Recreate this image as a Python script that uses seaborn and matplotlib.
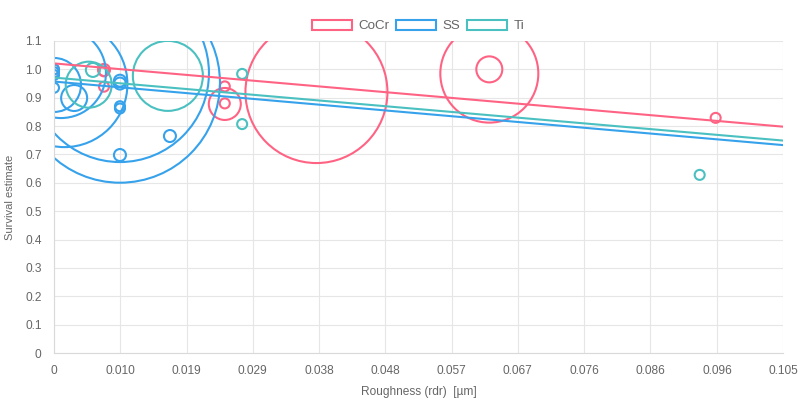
import numpy as np
import pandas as pd
import matplotlib
matplotlib.use("Agg")
import matplotlib.pyplot as plt
import seaborn as sns
from matplotlib.patches import Patch

# bubble data (x = roughness, y = survival, r = bubble radius in px)
cocr_x = [0.0, 0.0072, 0.0072, 0.0072, 0.0246, 0.0246, 0.0246, 0.0378, 0.0627, 0.0627, 0.0953]
cocr_y = [1.00, 0.998, 0.993, 0.939, 0.878, 0.880, 0.940, 0.920, 0.985, 1.000, 0.829]
cocr_r = [5, 6, 5, 5, 16, 5, 5, 71, 49, 13, 5]

ss_x = [0.0, 0.0, 0.0, 0.0, 0.0, 0.0015, 0.001, 0.0029, 0.0095, 0.0095,
        0.0095, 0.0095, 0.0095, 0.0167, 0.0095, 0.0095]
ss_y = [1.00, 0.99, 0.98, 0.935, 0.945, 0.948, 0.987, 0.899, 0.96, 0.95,
        0.87, 0.862, 0.698, 0.765, 0.953, 0.987]
ss_r = [5, 5, 5, 5, 27, 63, 45, 13, 6, 6, 5, 5, 6, 6, 100, 89]

ti_x = [0.005, 0.0056, 0.0164, 0.0271, 0.0271, 0.093]
ti_y = [0.946, 0.998, 0.977, 0.984, 0.807, 0.628]
ti_r = [23, 7, 35, 5, 5, 5]

# trend lines (value at x=0 and x=0.105)
trend_x = [0.0, 0.105]
cocr_trend = [1.021, 0.798]
ss_trend = [0.957, 0.733]
ti_trend = [0.971, 0.749]

x_ticks = [0, 0.0095, 0.0191, 0.0286, 0.0382, 0.0477, 0.0573, 0.0668, 0.0764, 0.0859, 0.0955, 0.105]
x_labels = ["0", "0.010", "0.019", "0.029", "0.038", "0.048", "0.057", "0.067",
            "0.076", "0.086", "0.096", "0.105"]
y_ticks = [0, 0.1, 0.2, 0.3, 0.4, 0.5, 0.6, 0.7, 0.8, 0.9, 1.0, 1.1]
y_labels = ["0", "0.1", "0.2", "0.3", "0.4", "0.5", "0.6", "0.7", "0.8", "0.9", "1.0", "1.1"]

colors = {"CoCr": "#ff6384", "SS": "#36a2eb", "Ti": "#4bc0c0"}

sns.set_theme(style="whitegrid")
plt.rcParams["font.family"] = ["Liberation Sans", "DejaVu Sans"]

fig = plt.figure(figsize=(8.1, 4), dpi=100)
ax = fig.add_axes([54 / 810, 1 - 353 / 400, 729 / 810, 312 / 400])

series = [("CoCr", cocr_x, cocr_y, cocr_r, cocr_trend),
          ("SS", ss_x, ss_y, ss_r, ss_trend),
          ("Ti", ti_x, ti_y, ti_r, ti_trend)]

for name, xs, ys, rs, trend in series:
    col = colors[name]
    df = pd.DataFrame({"x": xs, "y": ys, "r": rs})
    sizes = (2 * df["r"] * 0.72) ** 2
    sns.scatterplot(data=df, x="x", y="y", s=sizes, color=col, linewidth=1.5,
                    ax=ax, legend=False)
    coll = ax.collections[-1]
    coll.set_facecolor("none")
    coll.set_edgecolor(col)
    coll.set_linewidth(1.5)

for name, xs, ys, rs, trend in series:
    sns.lineplot(x=trend_x, y=trend, color=colors[name], linewidth=1.5, ax=ax)

ax.set_xlim(0, 0.105)
ax.set_ylim(0, 1.1)
ax.set_xticks(x_ticks)
ax.set_xticklabels(x_labels)
ax.set_yticks(y_ticks)
ax.set_yticklabels(y_labels)
ax.grid(True, color="#e6e6e6", linewidth=0.8)
ax.set_facecolor("white")
for side in ["top", "right"]:
    ax.spines[side].set_visible(False)
for side in ["left", "bottom"]:
    ax.spines[side].set_color("#d9d9d9")
    ax.spines[side].set_linewidth(0.8)
ax.tick_params(axis="both", labelsize=8.6, colors="#666666", length=6,
               color="#e6e6e6", width=0.8, pad=3)

ax.set_xlabel("Roughness (rdr)  [µm]", fontsize=8.6, color="#666666", labelpad=6)
ax.set_ylabel("Survival estimate", fontsize=8.0, color="#666666", labelpad=7)

handles = [Patch(facecolor="white", edgecolor=colors[n], linewidth=1.5, label=n)
           for n in ["CoCr", "SS", "Ti"]]
fig.legend(handles=handles, loc="center", bbox_to_anchor=(418 / 810, 1 - 26 / 400), ncol=3,
           frameon=False, fontsize=9.6, handlelength=3.0, handleheight=0.85,
           handletextpad=0.5, columnspacing=0.5, labelcolor="#666666")

fig.savefig("out.png", dpi=100)
